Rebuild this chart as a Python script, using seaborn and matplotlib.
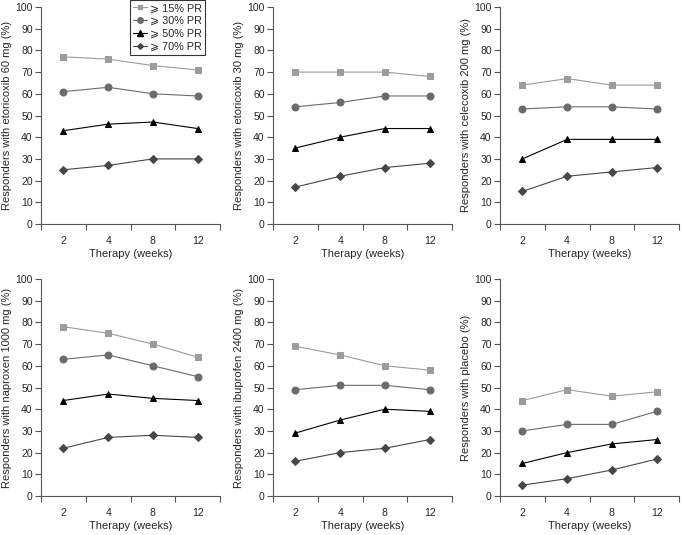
import numpy as np
import pandas as pd
import matplotlib
matplotlib.use("Agg")
import matplotlib.pyplot as plt
import seaborn as sns

# Data
weeks = ["2", "4", "8", "12"]
thresholds = ["\u2a7e 15% PR", "\u2a7e 30% PR", "\u2a7e 50% PR", "\u2a7e 70% PR"]
panels = ["etoricoxib 60 mg", "etoricoxib 30 mg", "celecoxib 200 mg",
          "naproxen 1000 mg", "ibuprofen 2400 mg", "placebo"]

etori60 = [[77, 76, 73, 71], [61, 63, 60, 59], [43, 46, 47, 44], [25, 27, 30, 30]]
etori30 = [[70, 70, 70, 68], [54, 56, 59, 59], [35, 40, 44, 44], [17, 22, 26, 28]]
celecoxib = [[64, 67, 64, 64], [53, 54, 54, 53], [30, 39, 39, 39], [15, 22, 24, 26]]
naproxen = [[78, 75, 70, 64], [63, 65, 60, 55], [44, 47, 45, 44], [22, 27, 28, 27]]
ibuprofen = [[69, 65, 60, 58], [49, 51, 51, 49], [29, 35, 40, 39], [16, 20, 22, 26]]
placebo = [[44, 49, 46, 48], [30, 33, 33, 39], [15, 20, 24, 26], [5, 8, 12, 17]]
panel_values = [etori60, etori30, celecoxib, naproxen, ibuprofen, placebo]

colors = ["#9c9c9c", "#6b6b6b", "#000000", "#474747"]
markers = ["s", "o", "^", "D"]
msizes = [4.3, 5.0, 5.0, 3.6]

# long table
rows = []
for p, vals in zip(panels, panel_values):
    for t, series in zip(thresholds, vals):
        for i, (w, v) in enumerate(zip(weeks, series)):
            rows.append({"panel": p, "threshold": t, "pos": i, "week": w, "value": v})
df = pd.DataFrame(rows)

sns.set_style("ticks")
plt.rcParams["font.family"] = ["Liberation Sans", "DejaVu Sans"]
plt.rcParams["font.size"] = 7.5

fig = plt.figure(figsize=(6.83, 5.35), dpi=100)
lefts = [41, 273, 500]
tops = [224, 496]
W, H = 683, 535
axes = []
for r in range(2):
    for c in range(3):
        ax = fig.add_axes([lefts[c] / W, 1 - tops[r] / H, 179 / W, 217 / H])
        axes.append(ax)

for ax, p in zip(axes, panels):
    sub = df[df["panel"] == p]
    for t, col, mk, ms in zip(thresholds, colors, markers, msizes):
        s = sub[sub["threshold"] == t]
        sns.lineplot(data=s, x="pos", y="value", ax=ax, color=col, marker=mk,
                     markersize=ms, markeredgecolor=col, linewidth=0.8,
                     label=t, legend=False)
    ax.set_xlim(-0.5, 3.5)
    ax.set_ylim(0, 100)
    ax.set_yticks(np.arange(0, 101, 10))
    ax.set_xticks(np.arange(-0.5, 3.6, 1))
    ax.set_xticklabels([])
    ax.set_xticks(range(len(weeks)), minor=True)
    ax.set_xticklabels(weeks, minor=True)
    ax.tick_params(axis="x", which="minor", length=0, pad=9, labelsize=7.5)
    ax.tick_params(axis="both", which="major", length=4, width=0.8,
                   color="#555555", labelsize=7.5)
    ax.tick_params(axis="y", pad=2)
    ax.set_xlabel("Therapy (weeks)", fontsize=8, labelpad=2)
    ax.set_ylabel(f"Responders with {p} (%)", fontsize=8, labelpad=2.5)
    for sp in ["left", "bottom"]:
        ax.spines[sp].set_color("#555555")
        ax.spines[sp].set_linewidth(0.8)
    sns.despine(ax=ax)

handles = [matplotlib.lines.Line2D([], [], color=c, marker=m, markersize=ms * 0.8,
                                   linewidth=0.8)
           for c, m, ms in zip(colors, markers, msizes)]
leg = fig.legend(handles, thresholds, loc="upper left",
                 bbox_to_anchor=(130 / W, 1.0), bbox_transform=fig.transFigure,
                 borderaxespad=0, frameon=True, fancybox=False, fontsize=7.8,
                 handlelength=1.3, handletextpad=0.2, labelspacing=0.25,
                 borderpad=0.3)
leg.get_frame().set_edgecolor("black")
leg.get_frame().set_linewidth(0.8)

fig.savefig("out.png", dpi=100)
